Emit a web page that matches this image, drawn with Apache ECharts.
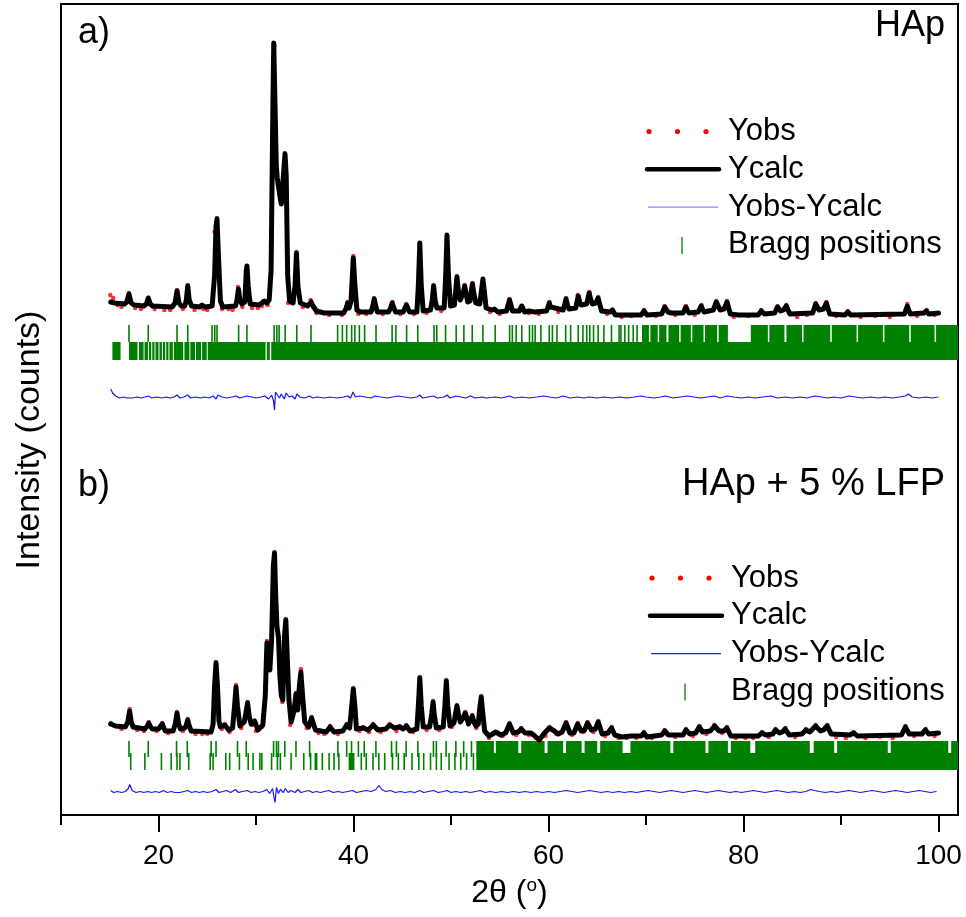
<!DOCTYPE html>
<html>
<head>
<meta charset="utf-8">
<script src="https://cdn.jsdelivr.net/npm/echarts@6/dist/echarts.min.js"></script>
<style>
html,body{margin:0;padding:0;background:#fff}
#chart{width:966px;height:917px}
</style>
</head>
<body>
<div id="chart"></div>
<script>
// ---------- Rietveld refinement data (2θ in degrees, intensity in a.u.) ----------

// a) HAp : calculated profile
const ycalcA = [[15.1,14],[15.5,13],[16.5,12],[16.75,14],[16.97,22],[17.2,13],[17.5,11],[18.5,10],[18.75,12],[18.95,18],[19.15,12],[19.4,10],[21.4,9],[21.7,13],[21.9,25],[22.1,13],[22.35,10],[22.7,10],[22.85,16],[23.0,30],[23.15,16],[23.4,10],[24.2,9],[24.47,11],[24.8,9],[25.5,10],[25.75,40],[25.9,90],[26.0,97],[26.15,60],[26.35,15],[26.6,9],[27.9,10],[28.05,16],[28.2,27],[28.35,16],[28.55,12],[28.85,14],[29.0,45],[29.07,50],[29.2,30],[29.4,12],[30.3,11],[30.6,13],[30.85,15],[31.1,13],[31.35,16],[31.55,46],[31.72,200],[31.82,273],[31.95,273],[32.08,150],[32.18,138],[32.32,140],[32.45,120],[32.6,112],[32.72,114],[32.88,150],[32.98,162],[33.1,140],[33.25,40],[33.45,15],[33.8,13],[34.0,30],[34.15,63],[34.3,30],[34.55,13],[35.3,10],[35.5,12],[35.65,14],[35.85,10],[36.2,5],[37.0,3],[39.0,3],[39.25,8],[39.4,13],[39.55,8],[39.75,15],[39.98,58],[40.15,30],[40.35,6],[40.7,4],[41.8,4],[41.98,10],[42.13,17],[42.3,9],[42.45,4],[43.6,4],[43.8,8],[43.97,13],[44.15,8],[44.3,4],[45.1,4],[45.28,8],[45.43,11],[45.6,7],[45.75,4],[46.5,4],[46.65,30],[46.8,73],[46.95,30],[47.15,5],[47.9,6],[48.08,16],[48.22,30],[48.37,16],[48.55,8],[49.3,8],[49.45,40],[49.59,81],[49.74,40],[49.95,10],[50.35,11],[50.48,25],[50.61,39],[50.76,25],[50.95,16],[51.15,17],[51.28,24],[51.4,30],[51.55,22],[51.72,14],[51.95,15],[52.07,24],[52.2,32],[52.35,22],[52.55,13],[52.95,12],[53.12,25],[53.27,37],[53.42,25],[53.6,8],[54.2,6],[54.46,7],[54.8,4],[55.7,5],[55.86,11],[56.0,16],[56.15,11],[56.3,5],[57.0,5],[57.26,10],[57.55,4],[58.0,5],[58.2,7],[58.6,4],[59.8,5],[59.95,9],[60.08,13],[60.22,9],[60.4,7],[61.5,6],[61.65,11],[61.79,17],[61.95,11],[62.1,7],[62.8,8],[62.92,14],[63.05,20],[63.2,14],[63.35,11],[63.9,12],[64.03,17],[64.17,23],[64.32,17],[64.5,12],[64.85,13],[65.09,18],[65.3,10],[65.45,5],[66.3,4],[66.56,6],[66.85,1],[69.5,1],[69.8,5],[70.1,1],[71.6,2],[71.93,9],[72.25,4],[72.6,3],[73.8,3],[74.09,9],[74.4,3],[75.35,4],[75.65,10],[75.95,4],[76.9,6],[77.22,14],[77.6,6],[78.0,7],[78.31,14],[78.65,2],[79.5,1],[81.5,1],[81.83,5],[82.15,2],[83.2,3],[83.48,9],[83.8,5],[84.1,6],[84.39,10],[84.75,2],[87.1,3],[87.4,12],[87.75,6],[88.2,7],[88.49,13],[88.85,2],[90.4,1],[90.7,4],[91.0,1],[96.5,2],[96.8,10],[97.1,2],[98.5,3],[98.75,5],[99.0,2],[100.0,3]];

// a) HAp : observed points
const yobsA = [[15.05,21],[15.35,18],[15.8,11],[16.2,9],[16.97,23],[17.6,8],[18.2,7],[19.6,7],[20.6,6],[21.2,6],[21.9,26],[22.5,7],[23.0,31],[23.7,6],[24.6,7],[25.0,6],[25.75,84],[26.0,98],[26.5,7],[27.2,7],[27.6,6],[28.15,29],[28.6,9],[29.07,50],[29.6,8],[30.2,8],[30.6,10],[31.2,11],[31.9,270],[32.1,145],[32.55,113],[32.95,163],[33.3,13],[34.15,64],[34.8,9],[35.6,16],[36.2,3],[37.5,1],[38.8,1],[39.4,14],[39.98,60],[40.5,2],[41.3,2],[42.1,18],[43.0,2],[44.0,14],[44.8,2],[45.4,12],[46.2,2],[46.8,73],[47.5,3],[48.2,31],[49.0,5],[49.6,80],[50.6,40],[51.4,31],[52.2,33],[53.3,37],[54.0,4],[55.0,2],[56.0,17],[57.3,10],[58.0,3],[59.0,2],[60.1,14],[61.0,4],[61.8,18],[63.0,21],[64.2,24],[65.1,19],[66.0,2],[67.5,-1],[68.5,0],[69.8,6],[71.0,0],[71.9,10],[73.0,1],[74.1,10],[75.0,1],[75.7,11],[77.2,15],[78.3,15],[79.0,-1],[80.5,0],[81.8,6],[83.5,10],[84.4,11],[85.5,-1],[86.5,1],[87.4,13],[88.5,14],[89.5,0],[90.7,5],[92.0,-1],[93.5,0],[95.0,-1],[96.8,12],[97.8,0],[98.8,6],[99.6,1]];

// a) HAp : difference Yobs - Ycalc
const diffA = [[15.1,8],[15.3,4],[15.6,1],[16.0,-1],[16.4,0],[16.8,-1],[17.0,1],[17.3,-1],[17.8,0],[18.2,-1],[18.6,0],[18.95,1],[19.3,-1],[19.8,0],[20.3,-1],[20.8,0],[21.2,-1],[21.6,0],[21.9,2],[22.2,-1],[22.6,0],[23.0,2],[23.3,-1],[23.8,0],[24.3,-1],[24.7,0],[25.2,-1],[25.6,1],[25.9,-2],[26.1,2],[26.5,0],[27.0,-1],[27.5,0],[28.0,1],[28.3,-1],[28.7,0],[29.0,1],[29.2,-1],[29.6,0],[30.0,-1],[30.5,0],[30.9,1],[31.3,-2],[31.6,2],[31.8,-4],[31.9,-13],[32.0,5],[32.2,6],[32.4,-1],[32.6,3],[32.9,-2],[33.1,4],[33.4,0],[33.7,1],[34.0,-2],[34.2,3],[34.5,0],[35.0,-1],[35.5,1],[35.8,-1],[36.3,0],[37.0,-1],[37.6,0],[38.3,-1],[39.0,0],[39.4,1],[39.7,-1],[39.95,5],[40.2,0],[40.6,1],[41.2,0],[41.8,-1],[42.2,1],[42.8,0],[43.5,-1],[44.0,0],[44.6,1],[45.2,0],[45.9,-1],[46.5,0],[46.8,2],[47.1,-1],[47.6,0],[48.2,1],[48.6,-1],[49.3,0],[49.6,2],[49.9,-1],[50.5,1],[51.0,0],[51.5,-1],[52.0,1],[52.5,-1],[53.2,0],[53.6,-1],[54.5,0],[55.2,-1],[56.0,1],[56.5,-1],[57.3,0],[58.0,-1],[58.8,0],[59.5,1],[60.1,0],[60.8,-1],[61.5,1],[62.2,-1],[63.0,0],[63.6,-1],[64.2,0],[65.0,-1],[65.7,0],[66.5,-1],[67.3,0],[68.0,-1],[68.8,0],[69.5,1],[70.0,0],[70.8,-1],[71.5,0],[72.0,1],[72.8,-1],[73.5,0],[74.2,1],[74.9,0],[75.6,-1],[76.3,0],[77.0,1],[77.6,-1],[78.3,1],[79.0,0],[79.8,-1],[80.5,0],[81.2,-1],[82.0,0],[82.8,1],[83.5,-1],[84.3,0],[85.0,-1],[85.8,0],[86.5,-1],[87.3,1],[88.0,0],[88.6,-1],[89.3,0],[90.0,-1],[90.8,1],[91.5,0],[92.2,-1],[93.0,0],[93.8,-1],[94.5,0],[95.3,-1],[96.0,0],[96.6,1],[96.9,3],[97.3,0],[98.0,-1],[98.7,0],[99.3,-1],[100.0,0]];

// a) Bragg positions: single reflections are numbers, unresolved groups are [from, to]
const braggA1 = [16.97,18.95,21.9,23.0,25.49,25.77,26.0,28.22,29.07,31.86,32.14,32.37,32.99,34.18,35.64,38.37,38.86,39.3,39.81,40.14,40.6,41.14,42.31,43.96,44.35,45.45,46.59,48.26,48.54,49.44,50.53,51.32,52.18,53.27,54.53,56.01,56.29,56.68,57.26,58.05,58.36,58.63,59.22,60.08,60.4,60.87,61.76,62.27,63.05,63.53,63.92,64.23,64.62,65.09,65.68,66.46,67.24,67.43,67.83,68.22,68.69,69.08,[69.59,70.3],[70.45,71.2],[71.35,72.1],[72.3,73.4],[73.55,74.6],[74.75,75.9],[76.05,77.3],[77.45,78.4],[80.75,82.5],[82.65,84.2],[84.4,86.0],[86.15,88.9],[89.05,91.6],[91.75,94.3],[94.45,97.0],[97.15,99.6],[99.75,102]];
const braggA2 = [[15.27,16.11],[16.97,17.85],[18.0,18.47],[18.57,18.92],[19.02,19.25],[19.36,19.59],[19.69,20.0],[20.1,20.35],[20.45,20.69],[20.79,21.02],[21.12,21.47],[21.57,22.53],[22.66,23.17],[23.27,23.75],[23.85,24.37],[24.47,24.95],[25.05,30.98],[31.11,31.42],[31.56,102]];

// b) HAp + 5 % LFP : calculated profile
const ycalcB = [[15.1,12],[15.6,10],[16.6,9],[16.85,14],[17.04,25],[17.2,14],[17.4,9],[18.6,7],[18.85,10],[19.0,13],[19.15,10],[19.35,7],[20.0,7],[20.2,9],[20.38,12],[20.55,8],[20.7,5],[21.5,5],[21.72,12],[21.9,23],[22.07,12],[22.25,7],[22.7,8],[22.85,11],[23.0,16],[23.15,10],[23.35,5],[25.4,4],[25.6,12],[25.75,50],[25.9,73],[26.05,50],[26.2,15],[26.35,9],[26.55,9],[26.8,11],[27.2,6],[27.6,8],[27.8,30],[27.95,49],[28.1,30],[28.35,10],[28.8,14],[29.0,25],[29.14,33],[29.3,20],[29.5,12],[29.86,15],[30.2,6],[30.7,11],[30.95,40],[31.12,93],[31.27,70],[31.42,66],[31.6,96],[31.78,170],[31.9,183],[32.02,140],[32.15,110],[32.31,98],[32.45,60],[32.6,40],[32.75,36],[32.92,100],[33.06,116],[33.2,80],[33.38,36],[33.6,14],[33.9,25],[34.1,42],[34.28,26],[34.45,50],[34.6,64],[34.78,40],[35.0,14],[35.4,9],[35.7,18],[36.1,6],[37.2,4],[37.6,9],[38.0,4],[38.9,5],[39.3,11],[39.6,8],[39.82,30],[39.98,47],[40.14,30],[40.3,7],[41.0,8],[41.5,6],[42.02,11],[42.5,6],[43.3,7],[43.73,11],[44.2,8],[44.75,9],[45.1,7],[45.43,10],[45.8,5],[46.5,7],[46.65,30],[46.8,58],[46.95,30],[47.15,9],[47.8,9],[48.0,20],[48.16,34],[48.3,20],[48.5,8],[49.2,9],[49.37,30],[49.52,55],[49.67,30],[49.9,10],[50.3,13],[50.46,22],[50.61,30],[50.76,22],[50.95,14],[51.15,15],[51.3,19],[51.46,23],[51.62,18],[51.8,12],[51.95,13],[52.05,17],[52.18,20],[52.35,14],[52.55,10],[52.8,12],[52.95,28],[53.1,39],[53.25,24],[53.45,5],[53.9,0],[54.6,4],[55.1,1],[55.6,3],[56.0,12],[56.4,3],[56.9,4],[57.2,7],[57.6,3],[58.2,3],[58.6,0],[59.06,-4],[59.5,2],[60.08,8],[60.6,5],[61.0,2],[61.4,4],[61.8,13],[62.2,3],[62.6,3],[63.0,12],[63.35,5],[63.7,6],[64.0,13],[64.4,6],[64.8,7],[65.1,14],[65.5,2],[66.1,3],[66.46,8],[66.8,1],[67.5,-1],[68.5,0],[69.5,0],[69.78,3],[70.1,-1],[71.6,1],[71.93,5],[72.3,1],[73.8,1],[74.1,6],[74.5,2],[75.1,3],[75.46,9],[75.8,4],[76.6,5],[77.03,10],[77.5,5],[78.0,5],[78.3,8],[78.7,0],[81.5,0],[81.9,3],[82.3,1],[83.0,2],[83.28,6],[83.7,3],[84.0,4],[84.26,7],[84.7,1],[86.0,2],[86.4,6],[86.8,4],[87.4,10],[87.9,5],[88.2,6],[88.57,10],[89.0,2],[90.9,1],[91.3,3],[91.7,0],[96.2,1],[96.6,9],[97.0,2],[98.3,2],[98.66,6],[99.0,2],[100.0,3]];

// b) HAp + 5 % LFP : observed points
const yobsB = [[15.1,13],[15.5,10],[16.2,7],[17.04,27],[17.8,6],[18.5,5],[19.0,14],[19.8,5],[20.4,13],[21.0,3],[21.9,24],[22.5,5],[23.0,17],[23.8,2],[24.5,2],[25.0,2],[25.9,74],[26.5,7],[26.8,12],[27.3,4],[27.95,51],[28.5,8],[28.8,15],[29.14,34],[29.6,11],[30.0,5],[30.6,9],[31.12,95],[31.9,184],[32.31,99],[32.7,34],[33.06,117],[33.5,11],[34.1,43],[34.6,67],[35.2,8],[35.7,19],[36.4,3],[37.0,2],[37.6,10],[38.4,2],[39.3,12],[39.98,48],[40.6,5],[41.0,9],[41.6,4],[42.0,12],[42.8,4],[43.7,12],[44.4,5],[44.75,10],[45.4,11],[46.1,4],[46.8,59],[47.5,6],[48.16,35],[48.8,6],[49.52,56],[50.1,9],[50.61,31],[51.46,24],[52.18,21],[52.6,8],[53.1,40],[53.9,-2],[54.6,4],[55.3,0],[56.0,13],[56.7,1],[57.2,8],[58.0,1],[58.7,-2],[59.1,-6],[59.7,0],[60.1,9],[60.8,2],[61.8,14],[62.4,1],[63.0,13],[63.6,4],[64.0,14],[64.6,4],[65.1,15],[65.8,0],[66.5,9],[67.2,-2],[68.0,-2],[69.0,-2],[69.8,4],[70.6,-2],[71.9,6],[73.0,-1],[74.1,7],[74.8,0],[75.5,10],[76.2,2],[77.0,11],[77.8,3],[78.3,9],[79.2,-2],[80.2,-2],[81.0,-2],[81.9,4],[82.6,-1],[83.3,7],[84.3,8],[85.3,-1],[86.4,7],[87.4,11],[88.6,11],[89.5,-1],[90.5,-2],[91.3,4],[92.5,-2],[94.0,-1],[95.3,-2],[96.6,10],[97.5,0],[98.7,7],[99.6,0]];

// b) HAp + 5 % LFP : difference Yobs - Ycalc
const diffB = [[15.1,1],[15.4,-1],[15.8,0],[16.2,-1],[16.6,0],[16.9,3],[17.05,7],[17.3,1],[17.7,-1],[18.1,0],[18.5,-1],[18.9,0],[19.3,-1],[19.7,0],[20.1,-1],[20.5,1],[20.9,-1],[21.3,0],[21.7,-1],[21.9,1],[22.2,-1],[22.6,0],[23.0,1],[23.4,-1],[23.8,0],[24.2,-1],[24.6,0],[25.0,-1],[25.5,0],[25.9,2],[26.2,-1],[26.6,0],[27.0,1],[27.4,-1],[27.9,2],[28.2,-1],[28.6,0],[29.1,1],[29.5,-1],[29.9,0],[30.3,-1],[30.7,0],[31.1,2],[31.4,-2],[31.7,3],[31.85,-6],[31.95,-11],[32.1,4],[32.3,-2],[32.5,2],[32.8,-1],[33.0,3],[33.3,-1],[33.6,1],[34.0,-1],[34.3,2],[34.6,-1],[35.0,0],[35.4,1],[35.8,-1],[36.2,0],[36.6,-1],[37.0,0],[37.5,1],[37.9,-1],[38.4,0],[38.9,-1],[39.4,0],[39.9,1],[40.3,-1],[40.8,0],[41.3,1],[41.8,0],[42.3,2],[42.6,6],[42.9,2],[43.3,0],[43.8,1],[44.3,-1],[44.8,0],[45.3,-1],[45.8,0],[46.3,-1],[46.8,1],[47.2,-1],[47.7,0],[48.2,1],[48.7,-1],[49.2,0],[49.6,1],[50.0,-1],[50.5,0],[51.0,-1],[51.5,0],[52.0,-1],[52.5,0],[53.0,1],[53.5,-1],[54.0,0],[54.6,-1],[55.2,0],[55.8,-1],[56.4,0],[57.0,-1],[57.6,0],[58.2,-1],[58.8,0],[59.4,-1],[60.0,0],[60.6,-1],[61.2,0],[61.8,1],[62.4,0],[63.0,-1],[63.6,0],[64.2,1],[64.8,0],[65.4,-1],[66.0,0],[66.6,-1],[67.2,0],[67.8,-1],[68.4,0],[69.0,-1],[69.6,0],[70.2,1],[70.8,0],[71.4,-1],[72.0,0],[72.6,1],[73.2,0],[73.8,-1],[74.4,0],[75.0,1],[75.6,0],[76.2,-1],[76.8,0],[77.4,1],[78.0,0],[78.6,-1],[79.2,0],[79.8,-1],[80.4,0],[81.0,1],[81.6,0],[82.2,-1],[82.8,0],[83.4,1],[84.0,0],[84.6,-1],[85.2,0],[85.8,-1],[86.4,0],[86.9,2],[87.3,1],[87.8,0],[88.4,-1],[89.0,0],[89.6,-1],[90.2,0],[90.8,1],[91.4,0],[92.0,-1],[92.6,0],[93.2,1],[93.8,0],[94.4,-1],[95.0,0],[95.6,1],[96.2,0],[96.8,-1],[97.4,0],[98.0,1],[98.6,0],[99.2,-1],[99.8,0]];

// b) Bragg positions (upper row HAp, lower row LFP)
const braggB1 = [16.97,18.95,21.85,22.95,25.4,25.9,28.1,29.0,31.8,32.1,32.3,32.95,34.1,35.5,38.4,39.3,39.8,40.5,41.1,42.3,43.9,44.4,45.4,46.6,48.2,48.5,49.5,50.5,51.3,52.1,[52.6,54.4],[54.6,56.9],[57.2,59.6],[59.9,61.5],[61.8,63.4],[63.7,65.0],[65.3,67.6],[68.4,72.5],[72.8,76.1],[76.4,78.4],[78.7,80.7],[81.2,86.8],[87.2,89.3],[89.6,94.8],[95.1,101.0],[101.3,102]];
const braggB2 = [17.15,18.6,20.3,21.3,21.9,22.2,23.1,25.3,25.6,26.9,27.3,28.3,29.2,29.7,30.4,30.6,31.6,32.2,32.5,33.6,34.9,35.6,[36.0,36.3],36.8,37.5,38.0,38.5,[39.5,40.1],40.8,41.3,42.0,42.6,43.2,44.0,44.6,45.2,46.0,46.7,47.2,47.9,48.5,49.0,49.8,50.4,51.0,51.6,52.3,[52.6,102]];

// x axis ticks
const majorTicks = [20, 40, 60, 80, 100];
const minorTicks = [10, 30, 50, 70, 90];

// ---------- layout (vertical stacking of the two refinements, in plot units) ----------
const Y_MAX = 811;
const OFF_CALC_A = 499, OFF_DIFF_A = 418;
const OFF_CALC_B = 79,  OFF_DIFF_B = 23.5;
const BRAGG_ROWS = {
  a1: [473, 490], a2: [455, 473],
  b1: [58, 74],   b2: [45, 62]
};

const FONT = '"Liberation Sans", Arial, sans-serif';
const NARROW = '"Liberation Sans Narrow", "Arial Narrow", "Liberation Sans", Arial, sans-serif';
const GREEN = '#008000';

const shift = (arr, off) => arr.map(p => [p[0], p[1] + off]);
const asRanges = arr => arr.map(v => Array.isArray(v) ? v : [v, v]);

function braggSeries(list, row) {
  const [lo, hi] = BRAGG_ROWS[row];
  return {
    type: 'custom',
    silent: true,
    clip: true,
    z: 1,
    data: asRanges(list),
    encode: { x: [0, 1] },
    renderItem: function (params, api) {
      const p0 = api.coord([api.value(0), lo]);
      const p1 = api.coord([api.value(1), hi]);
      let x = p0[0], w = p1[0] - p0[0];
      if (w < 1.6) { x = (p0[0] + p1[0]) / 2 - 0.8; w = 1.6; }
      return {
        type: 'rect',
        shape: { x: x, y: p1[1], width: w, height: p0[1] - p1[1] },
        style: { fill: GREEN }
      };
    }
  };
}

function calcSeries(data, off) {
  return {
    type: 'line', data: shift(data, off), showSymbol: false, silent: true, z: 4,
    lineStyle: { color: '#000', width: 5, join: 'round', cap: 'round' }
  };
}
function obsSeries(data, off) {
  return {
    type: 'scatter', data: shift(data, off), symbol: 'circle', symbolSize: 4.5, silent: true, z: 3,
    itemStyle: { color: '#ff0000' }
  };
}
function diffSeries(data, off) {
  return {
    type: 'line', data: shift(data, off), showSymbol: false, silent: true, z: 2,
    lineStyle: { color: '#1515ff', width: 1.2 }
  };
}

// legend drawn as a block of graphic items
function legendBlock(x0, y0, textX, diffColor) {
  const step = 37.8;
  const txt = (t, i) => ({
    type: 'text', x: textX, y: y0 + i * step,
    style: { text: t, font: '31px ' + FONT, fill: '#000', verticalAlign: 'middle', align: 'left' }
  });
  return [
    { type: 'circle', shape: { cx: x0 + 2, cy: y0, r: 2.6 }, style: { fill: '#ff0000' } },
    { type: 'circle', shape: { cx: x0 + 30.5, cy: y0, r: 2.6 }, style: { fill: '#ff0000' } },
    { type: 'circle', shape: { cx: x0 + 59, cy: y0, r: 2.6 }, style: { fill: '#ff0000' } },
    txt('Yobs', 0),
    { type: 'line', shape: { x1: x0, y1: y0 + step, x2: x0 + 72, y2: y0 + step }, style: { stroke: '#000', lineWidth: 4.5, lineCap: 'round' } },
    txt('Ycalc', 1),
    { type: 'line', shape: { x1: x0 + 1, y1: y0 + 2 * step, x2: x0 + 71, y2: y0 + 2 * step }, style: { stroke: diffColor, lineWidth: 1.4 } },
    txt('Yobs-Ycalc', 2),
    { type: 'line', shape: { x1: x0 + 35, y1: y0 + 3 * step - 8, x2: x0 + 35, y2: y0 + 3 * step + 9 }, style: { stroke: '#2e9a2e', lineWidth: 1.6 } },
    txt('Bragg positions', 3)
  ];
}

const chart = echarts.init(document.getElementById('chart'), null, { renderer: 'canvas' });

const option = {
  animation: false,
  backgroundColor: '#fff',
  grid: { left: 61, right: 8, top: 4, bottom: 102, show: true, borderColor: '#000', borderWidth: 2, backgroundColor: 'transparent' },
  xAxis: [
    {
      type: 'value', min: 10, max: 102,
      name: '2θ ({s|o})',
      nameLocation: 'middle', nameGap: 61,
      nameTextStyle: {
        fontFamily: NARROW, fontSize: 32, color: '#000',
        rich: { s: { fontFamily: NARROW, fontSize: 19, color: '#000', verticalAlign: 'top', padding: [0, 0, 15, 0] } }
      },
      axisLine: { show: true, lineStyle: { color: '#000', width: 2 } },
      axisTick: { show: true, inside: false, length: 17, customValues: majorTicks, lineStyle: { color: '#000', width: 2 } },
      axisLabel: { show: true, customValues: majorTicks, margin: 27, fontFamily: NARROW, fontSize: 28, color: '#000' },
      splitLine: { show: false }
    },
    {
      type: 'value', min: 10, max: 102, position: 'bottom',
      axisLine: { show: false },
      axisTick: { show: true, inside: false, length: 10, customValues: minorTicks, lineStyle: { color: '#000', width: 2 } },
      axisLabel: { show: false },
      splitLine: { show: false }
    }
  ],
  yAxis: {
    type: 'value', min: 0, max: Y_MAX,
    axisLine: { show: false }, axisTick: { show: false }, axisLabel: { show: false }, splitLine: { show: false }
  },
  graphic: [
    { type: 'text', x: 30, y: 440, rotation: Math.PI / 2,
      style: { text: 'Intensity (counts)', font: '34px ' + FONT, fill: '#000', align: 'center', verticalAlign: 'middle' } },
    { type: 'text', left: 78, top: 15, style: { text: 'a)', font: '36px ' + FONT, fill: '#000' } },
    { type: 'text', right: 21, top: 8, style: { text: 'HAp', font: '36px ' + FONT, fill: '#000' } },
    { type: 'text', left: 78, top: 468, style: { text: 'b)', font: '36px ' + FONT, fill: '#000' } },
    { type: 'text', right: 21, top: 466, style: { text: 'HAp + 5 % LFP', font: '38px ' + FONT, fill: '#000' } }
  ].concat(legendBlock(647, 131.5, 728, '#8a8aff'), legendBlock(650, 578, 731, '#2020ff')),
  series: [
    braggSeries(braggA1, 'a1'), braggSeries(braggA2, 'a2'),
    obsSeries(yobsA, OFF_CALC_A), calcSeries(ycalcA, OFF_CALC_A), diffSeries(diffA, OFF_DIFF_A),
    braggSeries(braggB1, 'b1'), braggSeries(braggB2, 'b2'),
    obsSeries(yobsB, OFF_CALC_B), calcSeries(ycalcB, OFF_CALC_B), diffSeries(diffB, OFF_DIFF_B)
  ]
};

chart.setOption(option);
</script>
</body>
</html>
